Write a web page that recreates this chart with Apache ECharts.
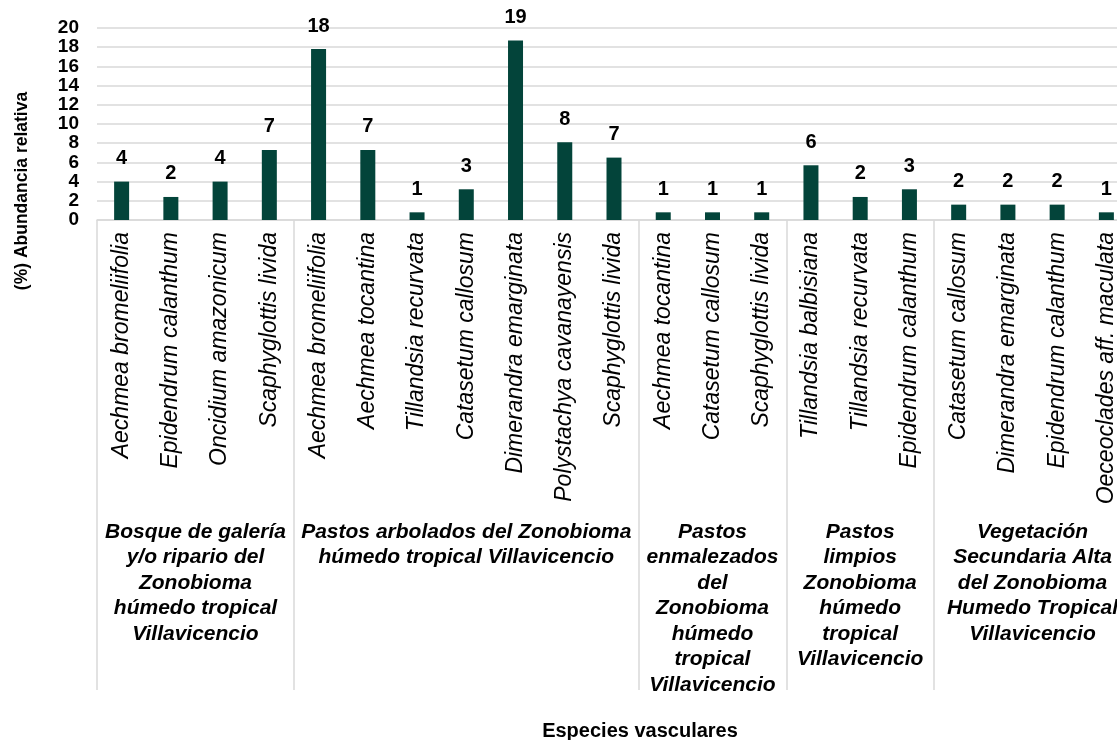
<!DOCTYPE html>
<html>
<head>
<meta charset="utf-8">
<script src="https://cdn.jsdelivr.net/npm/echarts@6/dist/echarts.min.js"></script>
<style>
html,body{margin:0;padding:0;background:#fff;}
#chart{width:1117px;height:740px;}
</style>
</head>
<body>
<div id="chart"></div>
<script>
const species = [
  'Aechmea bromeliifolia','Epidendrum calanthum','Oncidium amazonicum','Scaphyglottis livida',
  'Aechmea bromeliifolia','Aechmea tocantina','Tillandsia recurvata','Catasetum callosum','Dimerandra emarginata','Polystachya cavanayensis','Scaphyglottis livida',
  'Aechmea tocantina','Catasetum callosum','Scaphyglottis livida',
  'Tillandsia balbisiana','Tillandsia recurvata','Epidendrum calanthum',
  'Catasetum callosum','Dimerandra emarginata','Epidendrum calanthum','Oeceoclades aff. maculata'
];
const abundance = [4.0, 2.4, 4.0, 7.3, 17.8, 7.3, 0.8, 3.2, 18.7, 8.1, 6.5, 0.8, 0.8, 0.8, 5.7, 2.4, 3.2, 1.6, 1.6, 1.6, 0.8];
const groupNames = [
  'Bosque de galería\ny/o ripario del\nZonobioma\nhúmedo tropical\nVillavicencio',
  'Pastos arbolados del Zonobioma\nhúmedo tropical Villavicencio',
  'Pastos\nenmalezados\ndel\nZonobioma\nhúmedo\ntropical\nVillavicencio',
  'Pastos\nlimpios\nZonobioma\nhúmedo\ntropical\nVillavicencio',
  'Vegetación\nSecundaria Alta\ndel Zonobioma\nHumedo Tropical\nVillavicencio'
];
const groupSizes = [4, 7, 3, 3, 4];
const yTicks = {min: 0, max: 20, interval: 2};
const yTitle = '(%) Abundancia relativa';
const xTitle = 'Especies vasculares';

// Build half-slot axis for group labels and separators
const nHalf = species.length * 2;
const groupAxisData = new Array(nHalf + 1).fill('');
const boundaries = [0];
let acc = 0;
groupSizes.forEach((n, i) => {
  groupAxisData[acc * 2 + n] = groupNames[i];
  acc += n;
  boundaries.push(acc * 2);
});

const chart = echarts.init(document.getElementById('chart'));
const gridColor = '#d9d9d9';
const FF = 'Liberation Sans, Arial, sans-serif';
chart.setOption({
  animation: false,
  textStyle: {fontFamily: FF},
  grid: {left: 97, width: 1034, top: 28, height: 192, containLabel: false, outerBoundsMode: 'none'},
  xAxis: [
    {
      type: 'category',
      data: species,
      axisLine: {show: true, lineStyle: {color: gridColor, width: 1.5}},
      axisTick: {show: false},
      axisLabel: {
        interval: 0, rotate: 90, margin: 12, hideOverlap: false,
        fontSize: 23, fontStyle: 'italic', color: '#000', fontFamily: FF
      }
    },
    {
      type: 'category',
      data: groupAxisData,
      boundaryGap: false,
      position: 'bottom',
      axisLine: {show: false},
      axisTick: {
        show: true,
        interval: (idx) => boundaries.includes(idx),
        length: 470,
        lineStyle: {color: gridColor, width: 1.5}
      },
      axisLabel: {
        interval: 0, margin: 299, hideOverlap: false,
        fontSize: 21, fontWeight: 'bold', fontStyle: 'italic', color: '#000',
        lineHeight: 25.5, align: 'center', fontFamily: FF
      },
      splitLine: {show: false}
    }
  ],
  yAxis: {
    type: 'value',
    min: yTicks.min, max: yTicks.max, interval: yTicks.interval,
    axisLine: {show: false},
    axisTick: {show: false},
    axisLabel: {
      fontSize: 19, fontWeight: 'bold', color: '#000', margin: 18, fontFamily: FF,
      showMinLabel: true, showMaxLabel: true, hideOverlap: false
    },
    splitLine: {show: true, lineStyle: {color: gridColor, width: 1.5}}
  },
  graphic: [
    {
      type: 'text', x: 22, y: 191, rotation: Math.PI / 2,
      style: {
        text: yTitle, fill: '#000', font: 'bold 17.5px "Liberation Sans", Arial, sans-serif',
        align: 'center', verticalAlign: 'middle'
      }
    },
    {
      type: 'text', x: 640, y: 731,
      style: {
        text: xTitle, fill: '#000', font: 'bold 20px "Liberation Sans", Arial, sans-serif',
        align: 'center', verticalAlign: 'middle'
      }
    }
  ],
  series: [{
    type: 'bar',
    data: abundance,
    xAxisIndex: 0,
    barWidth: 15,
    itemStyle: {color: '#03443a'},
    label: {
      show: true, position: 'top', distance: 13,
      fontSize: 20, fontWeight: 'bold', color: '#000', fontFamily: FF,
      formatter: (p) => String(Math.round(p.value))
    }
  }]
});
</script>
</body>
</html>
